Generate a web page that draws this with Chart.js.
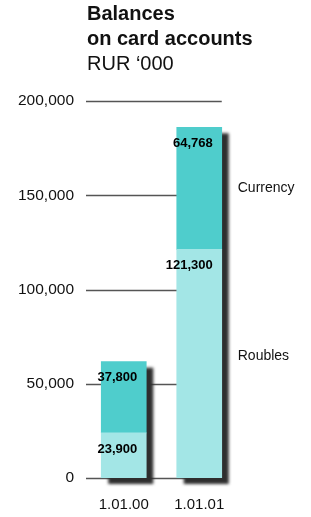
<!DOCTYPE html>
<html>
<head>
<meta charset="utf-8">
<script src="https://cdn.jsdelivr.net/npm/chart.js"></script>
<style>
  html, body { margin: 0; padding: 0; background: #fff; }
  .wrap { position: relative; width: 311px; height: 517px; }
  .chart-title {
    position: absolute; left: 87px; top: 1px;
    font-family: 'Liberation Sans', Arial, sans-serif;
    font-size: 20px; line-height: 25px; color: #111;
  }
  .chart-title b { font-weight: bold; }
  canvas { position: absolute; left: 0; top: 0; }
</style>
</head>
<body>
<div class="wrap">
  <canvas id="chart-balances" width="311" height="517"></canvas>
  <div class="chart-title"><b>Balances<br>on card accounts</b><br>RUR ‘000</div>
</div>
<script>
// data
const categories = ['1.01.00', '1.01.01'];
const seriesNames = ['Roubles', 'Currency'];
const roubles = [23900, 121300];
const currency = [37800, 64768];
const yTicks = [0, 50000, 100000, 150000, 200000];

const FONT = "'Liberation Sans', Arial, sans-serif";
const fmt = v => v.toLocaleString('en-US');

// grid lines behind the bars, ending at the right edge of the last bar
const gridPlugin = {
  id: 'gridLines',
  beforeDatasetsDraw(chart) {
    const { ctx, chartArea, scales } = chart;
    const meta = chart.getDatasetMeta(0);
    const last = meta.data[meta.data.length - 1];
    const right = last.x + last.width / 2;
    ctx.save();
    ctx.strokeStyle = '#555';
    ctx.lineWidth = 1.3;
    yTicks.forEach(t => {
      const y = Math.round(scales.y.getPixelForValue(t)) + 0.5;
      ctx.beginPath();
      ctx.moveTo(chartArea.left, y);
      ctx.lineTo(right, y);
      ctx.stroke();
    });
    // drop shadows
    ctx.fillStyle = '#2e2e2e';
    ctx.filter = 'blur(1.5px)';
    meta.data.forEach((el, i) => {
      let top = el.y;
      chart.data.datasets.forEach((d, di) => {
        top = Math.min(top, chart.getDatasetMeta(di).data[i].y);
      });
      ctx.fillRect(el.x - el.width / 2 + 7, top + 6, el.width, el.base - top);
    });
    ctx.restore();
  }
};

// value labels inside segments + series names beside the last bar
const labelPlugin = {
  id: 'segLabels',
  afterDatasetsDraw(chart) {
    const { ctx } = chart;
    ctx.save();
    chart.data.datasets.forEach((ds, di) => {
      const meta = chart.getDatasetMeta(di);
      meta.data.forEach((el, i) => {
        const top = Math.min(el.y, el.base);
        const bottom = Math.max(el.y, el.base);
        const h = bottom - top;
        ctx.font = 'bold 13px ' + FONT;
        ctx.fillStyle = '#000';
        ctx.textAlign = 'right';
        ctx.textBaseline = 'middle';
        ctx.fillText(fmt(ds.data[i]), el.x + el.width / 2 - 9, top + Math.min(h / 2, 16));
        if (i === meta.data.length - 1) {
          ctx.font = '14px ' + FONT;
          ctx.fillStyle = '#111';
          ctx.textAlign = 'left';
          ctx.fillText(ds.label, el.x + el.width / 2 + 16, (top + bottom) / 2 - (di === 0 ? 8 : 0));
        }
      });
    });
    ctx.restore();
  }
};

new Chart(document.getElementById('chart-balances'), {
  type: 'bar',
  data: {
    labels: categories,
    datasets: [
      { label: seriesNames[0], data: roubles, backgroundColor: '#a3e6e6', barThickness: 45 },
      { label: seriesNames[1], data: currency, backgroundColor: '#4fcdcc', barThickness: 45 }
    ]
  },
  options: {
    responsive: false,
    animation: false,
    layout: { padding: { top: 101, right: 74, bottom: 0, left: 0 } },
    plugins: {
      legend: { display: false },
      tooltip: { enabled: false }
    },
    scales: {
      x: {
        stacked: true,
        grid: { display: false, drawTicks: false },
        border: { display: false },
        ticks: { color: '#111', font: { family: FONT, size: 15 }, padding: 18 },
        afterFit: s => { s.height = 39; }
      },
      y: {
        stacked: true,
        min: 0,
        max: 200000,
        afterBuildTicks: s => { s.ticks = yTicks.map(v => ({ value: v })); },
        grid: { display: false, drawTicks: false },
        border: { display: false },
        ticks: {
          color: '#111',
          font: { family: FONT, size: 15.5 },
          padding: 12,
          callback: v => fmt(v)
        },
        afterFit: s => { s.width = 86; }
      }
    }
  },
  plugins: [gridPlugin, labelPlugin]
});
</script>
</body>
</html>
